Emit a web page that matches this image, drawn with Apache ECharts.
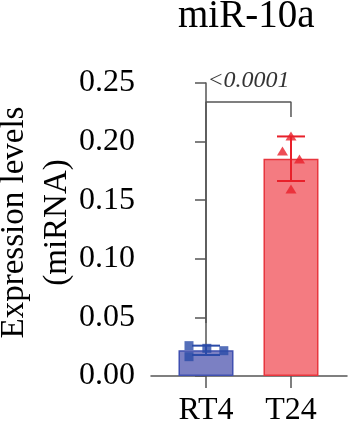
<!DOCTYPE html>
<html>
<head>
<meta charset="utf-8">
<script src="https://cdn.jsdelivr.net/npm/echarts@6/dist/echarts.min.js"></script>
<style>
  html, body { margin: 0; padding: 0; background: #fff; }
  #chart { width: 350px; height: 423px; }
</style>
</head>
<body>
<div id="chart"></div>
<script>
// values
const categories = ["RT4", "T24"];
const means = [0.0219, 0.1854];
const sds = [0.0040, 0.0190];
const rt4Points = [0.0259, 0.0165, 0.0236, 0.0216];
const rt4Jitter = [-0.20, -0.20, 0.01, 0.21];
const t24Points = [0.2048, 0.1920, 0.1852, 0.1596];
const t24Jitter = [0.0, -0.10, 0.10, 0.0];
const bracketY = [0.0452, 0.2338, 0.2210]; // left foot, top, right foot
const pLabel = "<0.0001";
const yTicks = [0, 0.25, 0.05]; // min, max, step

const serif = "'Liberation Serif', 'Times New Roman', serif";
const axisColor = "#555";
const barFill = ["#7b80c3", "#f47b81"];
const barBorder = ["#4050b0", "#e8363e"];
const dotColor = ["#2b4ba8", "#e8202a"];

const chart = echarts.init(document.getElementById("chart"));

const option = {
  animation: false,
  title: {
    text: "miR-10a",
    left: 178,
    top: -3,
    padding: 0,
    textStyle: { fontFamily: serif, fontSize: 39, fontWeight: "normal", color: "#000" },
  },
  grid: { left: 151, right: 3, top: 83, bottom: 47, outerBoundsMode: "none" },
  xAxis: {
    type: "value",
    min: -0.647,
    max: 1.659,
    splitLine: { show: false },
    axisLine: { show: true, lineStyle: { color: axisColor, width: 1.5 } },
    axisTick: { show: true, customValues: [0, 1], length: 12, lineStyle: { color: axisColor, width: 1.5 } },
    axisLabel: {
      customValues: [0, 1],
      formatter: (v) => categories[Math.round(v)],
      fontFamily: serif,
      fontSize: 32,
      color: "#000",
      margin: 19,
    },
  },
  yAxis: {
    type: "value",
    min: yTicks[0],
    max: yTicks[1],
    interval: yTicks[2],
    name: "Expression levels\n(miRNA)",
    nameLocation: "middle",
    nameRotate: 90,
    nameGap: 72,
    nameMoveOverlap: false,
    nameTextStyle: {
      fontFamily: serif, fontSize: 33, color: "#000", lineHeight: 43,
      padding: [0, 0, 0, 14],
    },
    splitLine: { show: false },
    axisLine: { show: true, lineStyle: { color: axisColor, width: 1.5 } },
    axisTick: { show: true, length: 11, lineStyle: { color: axisColor, width: 1.5 } },
    axisLabel: {
      formatter: (v) => v.toFixed(2),
      fontFamily: serif,
      fontSize: 32,
      color: "#000",
      margin: 16,
    },
  },
  series: [
    {
      type: "bar",
      barWidth: 55,
      data: categories.map((c, i) => ({
        value: [i, means[i]],
        itemStyle: { color: barFill[i], borderColor: barBorder[i], borderWidth: 1.5 },
      })),
      z: 2,
    },
    {
      // significance bracket
      type: "line",
      data: [[0, bracketY[0]], [0, bracketY[1]], [1, bracketY[1]], [1, bracketY[2]]],
      symbol: "none",
      lineStyle: { color: axisColor, width: 1.5 },
      z: 1,
      silent: true,
    },
    {
      type: "scatter",
      data: [[0.5, bracketY[1]]],
      symbolSize: 0,
      label: {
        show: true,
        position: "top",
        distance: 9,
        formatter: pLabel,
        fontFamily: serif,
        fontStyle: "italic",
        fontSize: 24,
        color: "#000",
      },
      silent: true,
    },
    {
      // mean ± SD
      type: "custom",
      data: categories.map((c, i) => [i, means[i], sds[i]]),
      encode: { x: 0, y: 1 },
      z: 3,
      renderItem: (params, api) => {
        const x = api.value(0), m = api.value(1), s = api.value(2);
        const top = api.coord([x, m + s]);
        const bot = api.coord([x, m - s]);
        const half = 14;
        const style = { stroke: dotColor[params.dataIndex], lineWidth: 2 };
        return {
          type: "group",
          children: [
            { type: "line", shape: { x1: top[0], y1: top[1], x2: bot[0], y2: bot[1] }, style },
            { type: "line", shape: { x1: top[0] - half, y1: top[1], x2: top[0] + half, y2: top[1] }, style },
            { type: "line", shape: { x1: bot[0] - half, y1: bot[1], x2: bot[0] + half, y2: bot[1] }, style },
          ],
        };
      },
    },
    {
      type: "scatter",
      data: rt4Points.map((v, k) => [rt4Jitter[k], v]),
      symbol: "rect",
      symbolSize: 9,
      itemStyle: { color: dotColor[0] },
      z: 4,
    },
    {
      type: "scatter",
      data: t24Points.map((v, k) => [1 + t24Jitter[k], v]),
      symbol: "triangle",
      symbolSize: [11, 9],
      itemStyle: { color: dotColor[1] },
      z: 4,
    },
  ],
};

chart.setOption(option);
</script>
</body>
</html>
